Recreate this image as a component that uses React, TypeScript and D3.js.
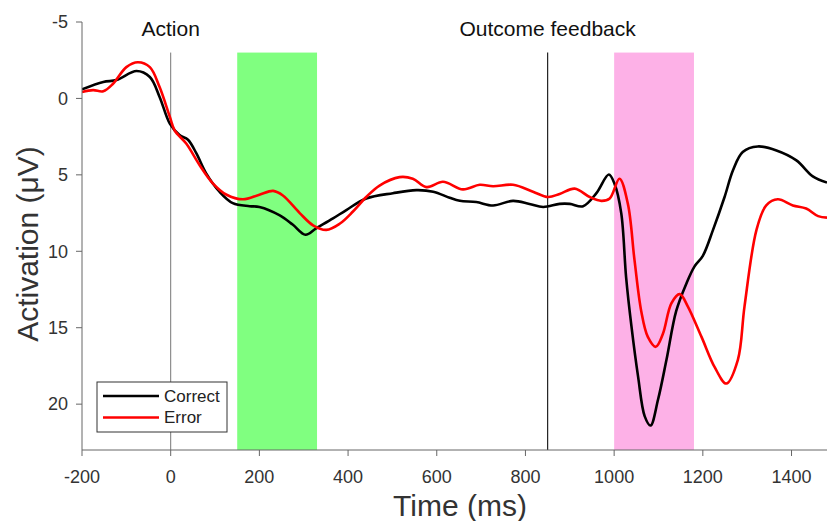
import React from "react";
import * as d3 from "d3";

// time (ms) and amplitude (µV)
const correctTime = [-200, -152, -122, -77, -47, -25, -2, 20, 39, 58, 80, 110, 140, 178, 200, 246, 275, 304, 328, 366, 396, 441, 501, 554, 592, 629, 652, 689, 727, 772, 809, 840, 877, 900, 930, 960, 988, 1001, 1016, 1027, 1039, 1054, 1069, 1082, 1099, 1118, 1140, 1163, 1181, 1200, 1223, 1249, 1268, 1290, 1324, 1366, 1411, 1448, 1480];
const correctValues = [-0.59, -1.08, -1.2, -1.79, -1.4, -0.1, 1.65, 2.4, 2.7, 3.6, 4.9, 6.1, 6.85, 7.05, 7.1, 7.65, 8.25, 8.92, 8.5, 7.85, 7.3, 6.55, 6.2, 6.0, 6.1, 6.5, 6.7, 6.78, 7.0, 6.7, 6.9, 7.1, 6.9, 6.9, 7.05, 6.2, 4.98, 5.6, 7.5, 11.7, 14.9, 18.2, 20.8, 21.4, 19.7, 17.1, 13.9, 12.1, 11.0, 10.3, 8.6, 6.45, 4.7, 3.5, 3.14, 3.4, 4.05, 5.1, 5.5];

const errorTime = [-200, -175, -152, -130, -100, -74, -47, -25, -2, 9, 35, 65, 95, 126, 163, 200, 231, 253, 291, 321, 351, 381, 411, 441, 471, 516, 546, 577, 614, 659, 697, 727, 772, 817, 851, 877, 911, 945, 971, 990, 1012, 1031, 1046, 1061, 1076, 1094, 1110, 1129, 1148, 1166, 1197, 1227, 1253, 1279, 1294, 1321, 1343, 1369, 1403, 1433, 1460, 1480];
const errorValues = [-0.42, -0.54, -0.47, -0.96, -2.05, -2.37, -2.05, -0.74, 1.2, 2.1, 2.95, 4.35, 5.55, 6.3, 6.6, 6.3, 6.05, 6.35, 7.5, 8.3, 8.6, 8.2, 7.4, 6.45, 5.7, 5.15, 5.25, 5.8, 5.45, 5.95, 5.65, 5.75, 5.65, 6.1, 6.45, 6.25, 5.9, 6.45, 6.7, 6.55, 5.25, 6.9, 10.6, 13.9, 15.6, 16.25, 15.4, 13.4, 12.8, 13.6, 15.6, 17.6, 18.65, 17.1, 13.6, 8.6, 7.0, 6.6, 7.0, 7.2, 7.7, 7.8];

const xTicks = [-200, 0, 200, 400, 600, 800, 1000, 1200, 1400];
const yTicks = [-5, 0, 5, 10, 15, 20];

const windows = [
  { from: 150, to: 330, color: "#80ff80" },
  { from: 1000, to: 1180, color: "#fdb1e7" },
];
const events = [
  { t: 0, label: "Action", color: "#777", width: 1 },
  { t: 850, label: "Outcome feedback", color: "#222", width: 1.2 },
];

const series = [
  { name: "Correct", time: correctTime, values: correctValues, color: "#000000" },
  { name: "Error", time: errorTime, values: errorValues, color: "#ff0000" },
];

const W = 827;
const H = 521;
const font = "Arial, 'Liberation Sans', sans-serif";

export default function App() {
  const x = d3.scaleLinear().domain([-200, 1480]).range([82, 827]);
  const y = d3.scaleLinear().domain([-5, 23]).range([22, 450]);
  const [x0, x1] = x.range();
  const [yTop, yBot] = y.range();
  const bandTop = y(-3);

  const line = d3
    .line<[number, number]>()
    .x((d) => x(d[0]))
    .y((d) => y(d[1]))
    .curve(d3.curveCatmullRom.alpha(0.5));

  return (
    <svg
      width={W}
      height={H}
      style={{ position: "absolute", left: 0, top: 0, background: "#fff" }}
      fontFamily={font}
    >
      <defs>
        <clipPath id="plot">
          <rect x={x0} y={yTop} width={x1 - x0} height={yBot - yTop} />
        </clipPath>
      </defs>

      {windows.map((w, i) => (
        <rect
          key={i}
          x={x(w.from)}
          y={bandTop}
          width={x(w.to) - x(w.from)}
          height={yBot - bandTop}
          fill={w.color}
        />
      ))}

      {events.map((e, i) => (
        <g key={i}>
          <line x1={x(e.t)} x2={x(e.t)} y1={bandTop} y2={yBot} stroke={e.color} strokeWidth={e.width} />
          <text x={x(e.t)} y={36} textAnchor="middle" fontSize={21} fill="#111">
            {e.label}
          </text>
        </g>
      ))}

      <g clipPath="url(#plot)">
        {series.map((s) => (
          <path
            key={s.name}
            d={line(s.time.map((t, i) => [t, s.values[i]] as [number, number])) || ""}
            fill="none"
            stroke={s.color}
            strokeWidth={2.6}
            strokeLinejoin="round"
          />
        ))}
      </g>

      {/* axes */}
      <line x1={x0} x2={x0} y1={yTop} y2={yBot} stroke="#666" />
      <line x1={x0} x2={x1} y1={yBot} y2={yBot} stroke="#666" />
      {yTicks.map((t) => (
        <g key={t}>
          <line x1={x0 - 6} x2={x0} y1={y(t)} y2={y(t)} stroke="#666" />
          <text x={x0 - 14} y={y(t)} dy="0.35em" textAnchor="end" fontSize={18} fill="#333">
            {t}
          </text>
        </g>
      ))}
      {xTicks.map((t) => (
        <g key={t}>
          <line x1={x(t)} x2={x(t)} y1={yBot} y2={yBot + 6} stroke="#666" />
          <text x={x(t)} y={483} textAnchor="middle" fontSize={18} fill="#333">
            {t}
          </text>
        </g>
      ))}

      <text x={460} y={516} textAnchor="middle" fontSize={30} fill="#333">
        Time (ms)
      </text>
      <text
        transform={`translate(38, ${(yTop + yBot) / 2 + 8}) rotate(-90)`}
        textAnchor="middle"
        fontSize={30}
        fill="#333"
      >
        Activation (μV)
      </text>

      {/* legend */}
      <g>
        <rect x={97} y={382} width={130} height={50} fill="#fff" stroke="#333" strokeWidth={1} />
        {series.map((s, i) => (
          <g key={s.name}>
            <line x1={103} x2={159} y1={396 + i * 21.5} y2={396 + i * 21.5} stroke={s.color} strokeWidth={2.6} />
            <text x={164} y={396 + i * 21.5} dy="0.35em" fontSize={17} fill="#222">
              {s.name}
            </text>
          </g>
        ))}
      </g>
    </svg>
  );
}
